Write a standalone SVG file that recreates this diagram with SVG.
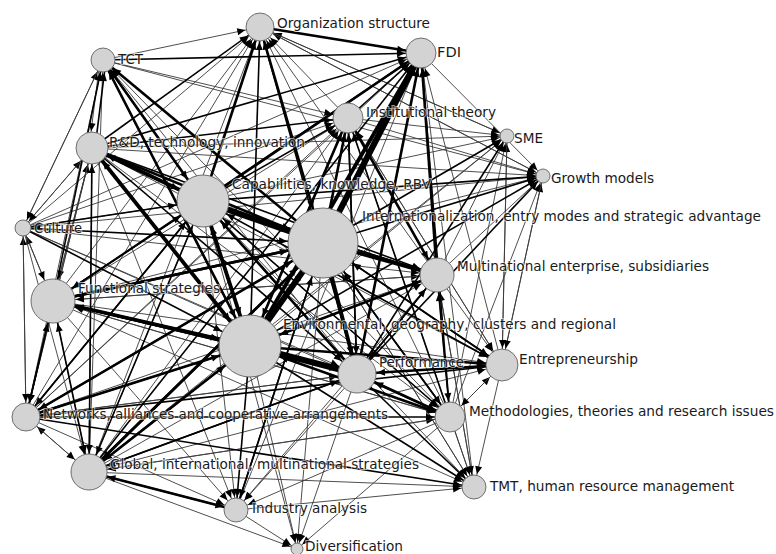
<svg xmlns="http://www.w3.org/2000/svg" width="776" height="554" viewBox="0 0 776 554">
<style>
#edges line{fill:none}
.w1{stroke:#3a3a3a;stroke-width:0.9}
.w2{stroke:#000;stroke-width:1.6}
.w3{stroke:#000;stroke-width:2.6}
.w4{stroke:#000;stroke-width:3.8}
.w5{stroke:#000;stroke-width:6}
.n circle{fill:#d3d3d3;stroke:#6e6e6e;stroke-width:1}
.n text{font-family:"DejaVu Sans",Verdana,sans-serif;font-size:13.5px;fill:#1a1a1a;stroke:#fff;stroke-width:2;stroke-opacity:0.6;paint-order:stroke}
.ah{fill:#000}
</style>
<defs>
<marker id="a-org" markerUnits="userSpaceOnUse" orient="auto" refX="15" refY="0" overflow="visible"><path class="ah" d="M-8,-3.5L0,0L-8,3.5z"/></marker>
<marker id="a-tct" markerUnits="userSpaceOnUse" orient="auto" refX="13" refY="0" overflow="visible"><path class="ah" d="M-8,-3.5L0,0L-8,3.5z"/></marker>
<marker id="a-fdi" markerUnits="userSpaceOnUse" orient="auto" refX="16" refY="0" overflow="visible"><path class="ah" d="M-8,-3.5L0,0L-8,3.5z"/></marker>
<marker id="a-inst" markerUnits="userSpaceOnUse" orient="auto" refX="16" refY="0" overflow="visible"><path class="ah" d="M-8,-3.5L0,0L-8,3.5z"/></marker>
<marker id="a-sme" markerUnits="userSpaceOnUse" orient="auto" refX="8" refY="0" overflow="visible"><path class="ah" d="M-8,-3.5L0,0L-8,3.5z"/></marker>
<marker id="a-rd" markerUnits="userSpaceOnUse" orient="auto" refX="17" refY="0" overflow="visible"><path class="ah" d="M-8,-3.5L0,0L-8,3.5z"/></marker>
<marker id="a-grow" markerUnits="userSpaceOnUse" orient="auto" refX="8" refY="0" overflow="visible"><path class="ah" d="M-8,-3.5L0,0L-8,3.5z"/></marker>
<marker id="a-cap" markerUnits="userSpaceOnUse" orient="auto" refX="27" refY="0" overflow="visible"><path class="ah" d="M-8,-3.5L0,0L-8,3.5z"/></marker>
<marker id="a-intl" markerUnits="userSpaceOnUse" orient="auto" refX="36" refY="0" overflow="visible"><path class="ah" d="M-8,-3.5L0,0L-8,3.5z"/></marker>
<marker id="a-cult" markerUnits="userSpaceOnUse" orient="auto" refX="9" refY="0" overflow="visible"><path class="ah" d="M-8,-3.5L0,0L-8,3.5z"/></marker>
<marker id="a-mne" markerUnits="userSpaceOnUse" orient="auto" refX="18" refY="0" overflow="visible"><path class="ah" d="M-8,-3.5L0,0L-8,3.5z"/></marker>
<marker id="a-func" markerUnits="userSpaceOnUse" orient="auto" refX="23" refY="0" overflow="visible"><path class="ah" d="M-8,-3.5L0,0L-8,3.5z"/></marker>
<marker id="a-env" markerUnits="userSpaceOnUse" orient="auto" refX="32" refY="0" overflow="visible"><path class="ah" d="M-8,-3.5L0,0L-8,3.5z"/></marker>
<marker id="a-perf" markerUnits="userSpaceOnUse" orient="auto" refX="20" refY="0" overflow="visible"><path class="ah" d="M-8,-3.5L0,0L-8,3.5z"/></marker>
<marker id="a-entr" markerUnits="userSpaceOnUse" orient="auto" refX="17" refY="0" overflow="visible"><path class="ah" d="M-8,-3.5L0,0L-8,3.5z"/></marker>
<marker id="a-net" markerUnits="userSpaceOnUse" orient="auto" refX="15" refY="0" overflow="visible"><path class="ah" d="M-8,-3.5L0,0L-8,3.5z"/></marker>
<marker id="a-meth" markerUnits="userSpaceOnUse" orient="auto" refX="16" refY="0" overflow="visible"><path class="ah" d="M-8,-3.5L0,0L-8,3.5z"/></marker>
<marker id="a-glob" markerUnits="userSpaceOnUse" orient="auto" refX="19" refY="0" overflow="visible"><path class="ah" d="M-8,-3.5L0,0L-8,3.5z"/></marker>
<marker id="a-tmt" markerUnits="userSpaceOnUse" orient="auto" refX="13" refY="0" overflow="visible"><path class="ah" d="M-8,-3.5L0,0L-8,3.5z"/></marker>
<marker id="a-ind" markerUnits="userSpaceOnUse" orient="auto" refX="13" refY="0" overflow="visible"><path class="ah" d="M-8,-3.5L0,0L-8,3.5z"/></marker>
<marker id="a-div" markerUnits="userSpaceOnUse" orient="auto" refX="7" refY="0" overflow="visible"><path class="ah" d="M-8,-3.5L0,0L-8,3.5z"/></marker>
</defs>
<rect width="776" height="554" fill="#fff"/>
<g id="edges">
<line class="w1" x1="103" y1="60" x2="260" y2="27" marker-end="url(#a-org)"/>
<line class="w1" x1="53" y1="301" x2="260" y2="27" marker-end="url(#a-org)"/>
<line class="w1" x1="23" y1="228" x2="260" y2="27" marker-end="url(#a-org)"/>
<line class="w1" x1="437" y1="275" x2="260" y2="27" marker-end="url(#a-org)"/>
<line class="w1" x1="348" y1="118" x2="260" y2="27" marker-end="url(#a-org)"/>
<line class="w1" x1="26" y1="417" x2="260" y2="27" marker-end="url(#a-org)"/>
<line class="w1" x1="89" y1="472" x2="260" y2="27" marker-end="url(#a-org)"/>
<line class="w1" x1="450" y1="417" x2="260" y2="27" marker-end="url(#a-org)"/>
<line class="w1" x1="507" y1="136" x2="260" y2="27" marker-end="url(#a-org)"/>
<line class="w1" x1="543" y1="176" x2="260" y2="27" marker-end="url(#a-org)"/>
<line class="w1" x1="100" y1="60" x2="89" y2="148" marker-end="url(#a-rd)"/>
<line class="w1" x1="23" y1="228" x2="103" y2="60" marker-end="url(#a-tct)"/>
<line class="w1" x1="357" y1="374" x2="103" y2="60" marker-end="url(#a-tct)"/>
<line class="w1" x1="450" y1="417" x2="103" y2="60" marker-end="url(#a-tct)"/>
<line class="w1" x1="89" y1="472" x2="103" y2="60" marker-end="url(#a-tct)"/>
<line class="w1" x1="103" y1="60" x2="348" y2="118" marker-end="url(#a-inst)"/>
<line class="w1" x1="26" y1="417" x2="421" y2="53" marker-end="url(#a-fdi)"/>
<line class="w1" x1="502" y1="365" x2="421" y2="53" marker-end="url(#a-fdi)"/>
<line class="w1" x1="23" y1="228" x2="421" y2="53" marker-end="url(#a-fdi)"/>
<line class="w1" x1="474" y1="487" x2="421" y2="53" marker-end="url(#a-fdi)"/>
<line class="w1" x1="236" y1="510" x2="421" y2="53" marker-end="url(#a-fdi)"/>
<line class="w1" x1="53" y1="301" x2="348" y2="118" marker-end="url(#a-inst)"/>
<line class="w1" x1="23" y1="228" x2="348" y2="118" marker-end="url(#a-inst)"/>
<line class="w1" x1="89" y1="472" x2="348" y2="118" marker-end="url(#a-inst)"/>
<line class="w1" x1="26" y1="417" x2="348" y2="118" marker-end="url(#a-inst)"/>
<line class="w1" x1="502" y1="365" x2="348" y2="118" marker-end="url(#a-inst)"/>
<line class="w1" x1="474" y1="487" x2="348" y2="118" marker-end="url(#a-inst)"/>
<line class="w1" x1="203" y1="201" x2="507" y2="136" marker-end="url(#a-sme)"/>
<line class="w1" x1="250" y1="346" x2="507" y2="136" marker-end="url(#a-sme)"/>
<line class="w1" x1="92" y1="148" x2="507" y2="136" marker-end="url(#a-sme)"/>
<line class="w1" x1="437" y1="275" x2="507" y2="136" marker-end="url(#a-sme)"/>
<line class="w1" x1="502" y1="365" x2="507" y2="136" marker-end="url(#a-sme)"/>
<line class="w1" x1="450" y1="417" x2="507" y2="136" marker-end="url(#a-sme)"/>
<line class="w1" x1="348" y1="118" x2="507" y2="136" marker-end="url(#a-sme)"/>
<line class="w1" x1="260" y1="27" x2="507" y2="136" marker-end="url(#a-sme)"/>
<line class="w1" x1="89" y1="472" x2="507" y2="136" marker-end="url(#a-sme)"/>
<line class="w1" x1="92" y1="148" x2="543" y2="176" marker-end="url(#a-grow)"/>
<line class="w1" x1="437" y1="275" x2="543" y2="176" marker-end="url(#a-grow)"/>
<line class="w1" x1="502" y1="365" x2="543" y2="176" marker-end="url(#a-grow)"/>
<line class="w1" x1="450" y1="417" x2="543" y2="176" marker-end="url(#a-grow)"/>
<line class="w1" x1="348" y1="118" x2="543" y2="176" marker-end="url(#a-grow)"/>
<line class="w1" x1="53" y1="301" x2="543" y2="176" marker-end="url(#a-grow)"/>
<line class="w1" x1="23" y1="228" x2="543" y2="176" marker-end="url(#a-grow)"/>
<line class="w1" x1="421" y1="53" x2="543" y2="176" marker-end="url(#a-grow)"/>
<line class="w1" x1="260" y1="27" x2="543" y2="176" marker-end="url(#a-grow)"/>
<line class="w1" x1="103" y1="60" x2="543" y2="176" marker-end="url(#a-grow)"/>
<line class="w1" x1="23" y1="228" x2="92" y2="148" marker-end="url(#a-rd)"/>
<line class="w1" x1="53" y1="301" x2="92" y2="148" marker-end="url(#a-rd)"/>
<line class="w1" x1="26" y1="417" x2="92" y2="148" marker-end="url(#a-rd)"/>
<line class="w1" x1="89" y1="472" x2="92" y2="148" marker-end="url(#a-rd)"/>
<line class="w1" x1="89" y1="472" x2="203" y2="201" marker-end="url(#a-cap)"/>
<line class="w1" x1="450" y1="417" x2="203" y2="201" marker-end="url(#a-cap)"/>
<line class="w1" x1="502" y1="365" x2="203" y2="201" marker-end="url(#a-cap)"/>
<line class="w1" x1="474" y1="487" x2="323" y2="243" marker-end="url(#a-intl)"/>
<line class="w1" x1="260" y1="27" x2="323" y2="243" marker-end="url(#a-intl)"/>
<line class="w1" x1="92" y1="148" x2="23" y2="228" marker-end="url(#a-cult)"/>
<line class="w1" x1="53" y1="301" x2="23" y2="228" marker-end="url(#a-cult)"/>
<line class="w1" x1="26" y1="417" x2="23" y2="228" marker-end="url(#a-cult)"/>
<line class="w1" x1="103" y1="60" x2="23" y2="228" marker-end="url(#a-cult)"/>
<line class="w1" x1="203" y1="201" x2="23" y2="228" marker-end="url(#a-cult)"/>
<line class="w1" x1="53" y1="301" x2="437" y2="275" marker-end="url(#a-mne)"/>
<line class="w1" x1="89" y1="472" x2="437" y2="275" marker-end="url(#a-mne)"/>
<line class="w1" x1="26" y1="417" x2="437" y2="275" marker-end="url(#a-mne)"/>
<line class="w1" x1="23" y1="228" x2="437" y2="275" marker-end="url(#a-mne)"/>
<line class="w1" x1="450" y1="417" x2="437" y2="275" marker-end="url(#a-mne)"/>
<line class="w1" x1="348" y1="118" x2="437" y2="275" marker-end="url(#a-mne)"/>
<line class="w1" x1="474" y1="487" x2="437" y2="275" marker-end="url(#a-mne)"/>
<line class="w1" x1="92" y1="148" x2="53" y2="301" marker-end="url(#a-func)"/>
<line class="w1" x1="23" y1="228" x2="53" y2="301" marker-end="url(#a-func)"/>
<line class="w1" x1="437" y1="275" x2="53" y2="301" marker-end="url(#a-func)"/>
<line class="w1" x1="89" y1="472" x2="53" y2="301" marker-end="url(#a-func)"/>
<line class="w1" x1="450" y1="417" x2="53" y2="301" marker-end="url(#a-func)"/>
<line class="w1" x1="450" y1="417" x2="250" y2="346" marker-end="url(#a-env)"/>
<line class="w1" x1="26" y1="417" x2="357" y2="374" marker-end="url(#a-perf)"/>
<line class="w1" x1="23" y1="228" x2="357" y2="374" marker-end="url(#a-perf)"/>
<line class="w1" x1="502" y1="365" x2="357" y2="374" marker-end="url(#a-perf)"/>
<line class="w1" x1="437" y1="275" x2="502" y2="365" marker-end="url(#a-entr)"/>
<line class="w1" x1="92" y1="148" x2="502" y2="365" marker-end="url(#a-entr)"/>
<line class="w1" x1="53" y1="301" x2="502" y2="365" marker-end="url(#a-entr)"/>
<line class="w1" x1="89" y1="472" x2="502" y2="365" marker-end="url(#a-entr)"/>
<line class="w1" x1="348" y1="118" x2="502" y2="365" marker-end="url(#a-entr)"/>
<line class="w1" x1="543" y1="176" x2="502" y2="365" marker-end="url(#a-entr)"/>
<line class="w1" x1="507" y1="136" x2="502" y2="365" marker-end="url(#a-entr)"/>
<line class="w1" x1="450" y1="417" x2="502" y2="365" marker-end="url(#a-entr)"/>
<line class="w1" x1="92" y1="148" x2="26" y2="417" marker-end="url(#a-net)"/>
<line class="w1" x1="23" y1="228" x2="26" y2="417" marker-end="url(#a-net)"/>
<line class="w1" x1="89" y1="472" x2="26" y2="417" marker-end="url(#a-net)"/>
<line class="w1" x1="357" y1="374" x2="26" y2="417" marker-end="url(#a-net)"/>
<line class="w1" x1="103" y1="60" x2="26" y2="417" marker-end="url(#a-net)"/>
<line class="w1" x1="92" y1="148" x2="450" y2="417" marker-end="url(#a-meth)"/>
<line class="w1" x1="53" y1="301" x2="450" y2="417" marker-end="url(#a-meth)"/>
<line class="w1" x1="89" y1="472" x2="450" y2="417" marker-end="url(#a-meth)"/>
<line class="w1" x1="502" y1="365" x2="450" y2="417" marker-end="url(#a-meth)"/>
<line class="w1" x1="23" y1="228" x2="450" y2="417" marker-end="url(#a-meth)"/>
<line class="w1" x1="26" y1="417" x2="89" y2="472" marker-end="url(#a-glob)"/>
<line class="w1" x1="23" y1="228" x2="89" y2="472" marker-end="url(#a-glob)"/>
<line class="w1" x1="450" y1="417" x2="89" y2="472" marker-end="url(#a-glob)"/>
<line class="w1" x1="323" y1="243" x2="474" y2="487" marker-end="url(#a-tmt)"/>
<line class="w1" x1="450" y1="417" x2="474" y2="487" marker-end="url(#a-tmt)"/>
<line class="w1" x1="502" y1="365" x2="474" y2="487" marker-end="url(#a-tmt)"/>
<line class="w1" x1="89" y1="472" x2="474" y2="487" marker-end="url(#a-tmt)"/>
<line class="w1" x1="437" y1="275" x2="474" y2="487" marker-end="url(#a-tmt)"/>
<line class="w1" x1="203" y1="201" x2="474" y2="487" marker-end="url(#a-tmt)"/>
<line class="w1" x1="53" y1="301" x2="474" y2="487" marker-end="url(#a-tmt)"/>
<line class="w1" x1="236" y1="510" x2="474" y2="487" marker-end="url(#a-tmt)"/>
<line class="w1" x1="357" y1="374" x2="236" y2="510" marker-end="url(#a-ind)"/>
<line class="w1" x1="203" y1="201" x2="236" y2="510" marker-end="url(#a-ind)"/>
<line class="w1" x1="53" y1="301" x2="236" y2="510" marker-end="url(#a-ind)"/>
<line class="w1" x1="26" y1="417" x2="236" y2="510" marker-end="url(#a-ind)"/>
<line class="w1" x1="92" y1="148" x2="236" y2="510" marker-end="url(#a-ind)"/>
<line class="w1" x1="450" y1="417" x2="236" y2="510" marker-end="url(#a-ind)"/>
<line class="w1" x1="437" y1="275" x2="236" y2="510" marker-end="url(#a-ind)"/>
<line class="w1" x1="236" y1="510" x2="297" y2="549" marker-end="url(#a-div)"/>
<line class="w1" x1="250" y1="346" x2="297" y2="549" marker-end="url(#a-div)"/>
<line class="w1" x1="323" y1="243" x2="297" y2="549" marker-end="url(#a-div)"/>
<line class="w1" x1="357" y1="374" x2="297" y2="549" marker-end="url(#a-div)"/>
<line class="w1" x1="89" y1="472" x2="297" y2="549" marker-end="url(#a-div)"/>
<line class="w1" x1="203" y1="201" x2="297" y2="549" marker-end="url(#a-div)"/>
<line class="w1" x1="450" y1="417" x2="297" y2="549" marker-end="url(#a-div)"/>
<line class="w2" x1="92" y1="148" x2="260" y2="27" marker-end="url(#a-org)"/>
<line class="w2" x1="250" y1="346" x2="260" y2="27" marker-end="url(#a-org)"/>
<line class="w2" x1="357" y1="374" x2="260" y2="27" marker-end="url(#a-org)"/>
<line class="w2" x1="95" y1="148" x2="106" y2="60" marker-end="url(#a-tct)"/>
<line class="w2" x1="53" y1="301" x2="103" y2="60" marker-end="url(#a-tct)"/>
<line class="w2" x1="103" y1="60" x2="421" y2="53" marker-end="url(#a-fdi)"/>
<line class="w2" x1="92" y1="148" x2="421" y2="53" marker-end="url(#a-fdi)"/>
<line class="w2" x1="348" y1="118" x2="421" y2="53" marker-end="url(#a-fdi)"/>
<line class="w2" x1="53" y1="301" x2="421" y2="53" marker-end="url(#a-fdi)"/>
<line class="w2" x1="89" y1="472" x2="421" y2="53" marker-end="url(#a-fdi)"/>
<line class="w2" x1="450" y1="417" x2="421" y2="53" marker-end="url(#a-fdi)"/>
<line class="w2" x1="92" y1="148" x2="348" y2="118" marker-end="url(#a-inst)"/>
<line class="w2" x1="203" y1="201" x2="348" y2="118" marker-end="url(#a-inst)"/>
<line class="w2" x1="357" y1="374" x2="348" y2="118" marker-end="url(#a-inst)"/>
<line class="w2" x1="450" y1="417" x2="348" y2="118" marker-end="url(#a-inst)"/>
<line class="w2" x1="323" y1="243" x2="507" y2="136" marker-end="url(#a-sme)"/>
<line class="w2" x1="357" y1="374" x2="507" y2="136" marker-end="url(#a-sme)"/>
<line class="w2" x1="323" y1="243" x2="543" y2="176" marker-end="url(#a-grow)"/>
<line class="w2" x1="203" y1="201" x2="543" y2="176" marker-end="url(#a-grow)"/>
<line class="w2" x1="250" y1="346" x2="543" y2="176" marker-end="url(#a-grow)"/>
<line class="w2" x1="357" y1="374" x2="543" y2="176" marker-end="url(#a-grow)"/>
<line class="w2" x1="203" y1="201" x2="92" y2="148" marker-end="url(#a-rd)"/>
<line class="w2" x1="250" y1="346" x2="92" y2="148" marker-end="url(#a-rd)"/>
<line class="w2" x1="103" y1="60" x2="203" y2="201" marker-end="url(#a-cap)"/>
<line class="w2" x1="23" y1="228" x2="203" y2="201" marker-end="url(#a-cap)"/>
<line class="w2" x1="53" y1="301" x2="203" y2="201" marker-end="url(#a-cap)"/>
<line class="w2" x1="357" y1="374" x2="203" y2="201" marker-end="url(#a-cap)"/>
<line class="w2" x1="26" y1="417" x2="203" y2="201" marker-end="url(#a-cap)"/>
<line class="w2" x1="437" y1="275" x2="203" y2="201" marker-end="url(#a-cap)"/>
<line class="w2" x1="23" y1="228" x2="323" y2="243" marker-end="url(#a-intl)"/>
<line class="w2" x1="450" y1="417" x2="323" y2="243" marker-end="url(#a-intl)"/>
<line class="w2" x1="502" y1="365" x2="323" y2="243" marker-end="url(#a-intl)"/>
<line class="w2" x1="236" y1="510" x2="323" y2="243" marker-end="url(#a-intl)"/>
<line class="w2" x1="203" y1="201" x2="437" y2="275" marker-end="url(#a-mne)"/>
<line class="w2" x1="357" y1="374" x2="437" y2="275" marker-end="url(#a-mne)"/>
<line class="w2" x1="92" y1="148" x2="437" y2="275" marker-end="url(#a-mne)"/>
<line class="w2" x1="203" y1="201" x2="53" y2="301" marker-end="url(#a-func)"/>
<line class="w2" x1="357" y1="374" x2="53" y2="301" marker-end="url(#a-func)"/>
<line class="w2" x1="26" y1="417" x2="53" y2="301" marker-end="url(#a-func)"/>
<line class="w2" x1="23" y1="228" x2="250" y2="346" marker-end="url(#a-env)"/>
<line class="w2" x1="26" y1="417" x2="250" y2="346" marker-end="url(#a-env)"/>
<line class="w2" x1="89" y1="472" x2="250" y2="346" marker-end="url(#a-env)"/>
<line class="w2" x1="103" y1="60" x2="250" y2="346" marker-end="url(#a-env)"/>
<line class="w2" x1="348" y1="118" x2="250" y2="346" marker-end="url(#a-env)"/>
<line class="w2" x1="437" y1="275" x2="250" y2="346" marker-end="url(#a-env)"/>
<line class="w2" x1="92" y1="148" x2="357" y2="374" marker-end="url(#a-perf)"/>
<line class="w2" x1="53" y1="301" x2="357" y2="374" marker-end="url(#a-perf)"/>
<line class="w2" x1="437" y1="275" x2="357" y2="374" marker-end="url(#a-perf)"/>
<line class="w2" x1="89" y1="472" x2="357" y2="374" marker-end="url(#a-perf)"/>
<line class="w2" x1="450" y1="417" x2="357" y2="374" marker-end="url(#a-perf)"/>
<line class="w2" x1="348" y1="118" x2="357" y2="374" marker-end="url(#a-perf)"/>
<line class="w2" x1="323" y1="243" x2="502" y2="365" marker-end="url(#a-entr)"/>
<line class="w2" x1="203" y1="201" x2="502" y2="365" marker-end="url(#a-entr)"/>
<line class="w2" x1="26" y1="417" x2="502" y2="365" marker-end="url(#a-entr)"/>
<line class="w2" x1="53" y1="301" x2="26" y2="417" marker-end="url(#a-net)"/>
<line class="w2" x1="203" y1="201" x2="26" y2="417" marker-end="url(#a-net)"/>
<line class="w2" x1="323" y1="243" x2="26" y2="417" marker-end="url(#a-net)"/>
<line class="w2" x1="323" y1="243" x2="450" y2="417" marker-end="url(#a-meth)"/>
<line class="w2" x1="203" y1="201" x2="450" y2="417" marker-end="url(#a-meth)"/>
<line class="w2" x1="437" y1="275" x2="450" y2="417" marker-end="url(#a-meth)"/>
<line class="w2" x1="26" y1="417" x2="450" y2="417" marker-end="url(#a-meth)"/>
<line class="w2" x1="53" y1="301" x2="89" y2="472" marker-end="url(#a-glob)"/>
<line class="w2" x1="92" y1="148" x2="89" y2="472" marker-end="url(#a-glob)"/>
<line class="w2" x1="203" y1="201" x2="89" y2="472" marker-end="url(#a-glob)"/>
<line class="w2" x1="357" y1="374" x2="89" y2="472" marker-end="url(#a-glob)"/>
<line class="w2" x1="236" y1="510" x2="89" y2="472" marker-end="url(#a-glob)"/>
<line class="w2" x1="357" y1="374" x2="474" y2="487" marker-end="url(#a-tmt)"/>
<line class="w2" x1="250" y1="346" x2="474" y2="487" marker-end="url(#a-tmt)"/>
<line class="w2" x1="26" y1="417" x2="474" y2="487" marker-end="url(#a-tmt)"/>
<line class="w2" x1="250" y1="346" x2="236" y2="510" marker-end="url(#a-ind)"/>
<line class="w2" x1="323" y1="243" x2="236" y2="510" marker-end="url(#a-ind)"/>
<line class="w3" x1="203" y1="201" x2="260" y2="27" marker-end="url(#a-org)"/>
<line class="w3" x1="323" y1="243" x2="260" y2="27" marker-end="url(#a-org)"/>
<line class="w3" x1="260" y1="27" x2="421" y2="53" marker-end="url(#a-fdi)"/>
<line class="w3" x1="203" y1="201" x2="103" y2="60" marker-end="url(#a-tct)"/>
<line class="w3" x1="323" y1="243" x2="103" y2="60" marker-end="url(#a-tct)"/>
<line class="w3" x1="250" y1="346" x2="103" y2="60" marker-end="url(#a-tct)"/>
<line class="w3" x1="203" y1="201" x2="421" y2="53" marker-end="url(#a-fdi)"/>
<line class="w3" x1="437" y1="275" x2="421" y2="53" marker-end="url(#a-fdi)"/>
<line class="w3" x1="357" y1="374" x2="421" y2="53" marker-end="url(#a-fdi)"/>
<line class="w3" x1="323" y1="243" x2="348" y2="118" marker-end="url(#a-inst)"/>
<line class="w3" x1="250" y1="346" x2="348" y2="118" marker-end="url(#a-inst)"/>
<line class="w3" x1="437" y1="275" x2="348" y2="118" marker-end="url(#a-inst)"/>
<line class="w3" x1="250" y1="346" x2="203" y2="201" marker-end="url(#a-cap)"/>
<line class="w3" x1="92" y1="148" x2="323" y2="243" marker-end="url(#a-intl)"/>
<line class="w3" x1="53" y1="301" x2="323" y2="243" marker-end="url(#a-intl)"/>
<line class="w3" x1="26" y1="417" x2="323" y2="243" marker-end="url(#a-intl)"/>
<line class="w3" x1="89" y1="472" x2="323" y2="243" marker-end="url(#a-intl)"/>
<line class="w3" x1="250" y1="346" x2="437" y2="275" marker-end="url(#a-mne)"/>
<line class="w3" x1="323" y1="243" x2="53" y2="301" marker-end="url(#a-func)"/>
<line class="w3" x1="53" y1="301" x2="250" y2="346" marker-end="url(#a-env)"/>
<line class="w3" x1="203" y1="201" x2="357" y2="374" marker-end="url(#a-perf)"/>
<line class="w3" x1="357" y1="374" x2="502" y2="365" marker-end="url(#a-entr)"/>
<line class="w3" x1="250" y1="346" x2="502" y2="365" marker-end="url(#a-entr)"/>
<line class="w3" x1="250" y1="346" x2="26" y2="417" marker-end="url(#a-net)"/>
<line class="w3" x1="357" y1="374" x2="450" y2="417" marker-end="url(#a-meth)"/>
<line class="w3" x1="250" y1="346" x2="450" y2="417" marker-end="url(#a-meth)"/>
<line class="w3" x1="250" y1="346" x2="89" y2="472" marker-end="url(#a-glob)"/>
<line class="w3" x1="323" y1="243" x2="89" y2="472" marker-end="url(#a-glob)"/>
<line class="w3" x1="89" y1="472" x2="236" y2="510" marker-end="url(#a-ind)"/>
<line class="w4" x1="250" y1="346" x2="421" y2="53" marker-end="url(#a-fdi)"/>
<line class="w4" x1="92" y1="148" x2="203" y2="201" marker-end="url(#a-cap)"/>
<line class="w4" x1="92" y1="148" x2="250" y2="346" marker-end="url(#a-env)"/>
<line class="w4" x1="323" y1="243" x2="357" y2="374" marker-end="url(#a-perf)"/>
<line class="w4" x1="323" y1="243" x2="437" y2="275" marker-end="url(#a-mne)"/>
<line class="w4" x1="250" y1="346" x2="53" y2="301" marker-end="url(#a-func)"/>
<line class="w4" x1="203" y1="201" x2="250" y2="346" marker-end="url(#a-env)"/>
<line class="w5" x1="323" y1="243" x2="421" y2="53" marker-end="url(#a-fdi)"/>
<line class="w5" x1="203" y1="201" x2="323" y2="243" marker-end="url(#a-intl)"/>
<line class="w5" x1="250" y1="346" x2="323" y2="243" marker-end="url(#a-intl)"/>
<line class="w5" x1="250" y1="346" x2="357" y2="374" marker-end="url(#a-perf)"/>
</g>
<g id="nodes">
<g id="n-org" class="n"><circle cx="260" cy="27" r="14"/><text x="277" y="28" textLength="153" lengthAdjust="spacingAndGlyphs">Organization structure</text></g>
<g id="n-tct" class="n"><circle cx="103" cy="60" r="12"/><text x="118" y="64" textLength="25" lengthAdjust="spacingAndGlyphs">TCT</text></g>
<g id="n-fdi" class="n"><circle cx="421" cy="53" r="15"/><text x="437" y="57" textLength="24" lengthAdjust="spacingAndGlyphs">FDI</text></g>
<g id="n-inst" class="n"><circle cx="348" cy="118" r="15"/><text x="366" y="117" textLength="130" lengthAdjust="spacingAndGlyphs">Institutional theory</text></g>
<g id="n-sme" class="n"><circle cx="507" cy="136" r="7"/><text x="514" y="143" textLength="29" lengthAdjust="spacingAndGlyphs">SME</text></g>
<g id="n-rd" class="n"><circle cx="92" cy="148" r="16"/><text x="109" y="147" textLength="196" lengthAdjust="spacingAndGlyphs">R&amp;D, technology, innovation</text></g>
<g id="n-grow" class="n"><circle cx="543" cy="176" r="7"/><text x="551" y="183" textLength="103" lengthAdjust="spacingAndGlyphs">Growth models</text></g>
<g id="n-cap" class="n"><circle cx="203" cy="201" r="26"/><text x="232" y="189" textLength="199" lengthAdjust="spacingAndGlyphs">Capabilities, knowledge, RBV</text></g>
<g id="n-intl" class="n"><circle cx="323" cy="243" r="35"/><text x="362" y="221" textLength="399" lengthAdjust="spacingAndGlyphs">Internationalization, entry modes and strategic advantage</text></g>
<g id="n-cult" class="n"><circle cx="23" cy="228" r="8"/><text x="34" y="233" textLength="48" lengthAdjust="spacingAndGlyphs">Culture</text></g>
<g id="n-mne" class="n"><circle cx="437" cy="275" r="17"/><text x="457" y="271" textLength="252" lengthAdjust="spacingAndGlyphs">Multinational enterprise, subsidiaries</text></g>
<g id="n-func" class="n"><circle cx="53" cy="301" r="22"/><text x="78" y="293" textLength="142" lengthAdjust="spacingAndGlyphs">Functional strategies</text></g>
<g id="n-env" class="n"><circle cx="250" cy="346" r="31"/><text x="283" y="329" textLength="333" lengthAdjust="spacingAndGlyphs">Environmental, geography, clusters and regional</text></g>
<g id="n-perf" class="n"><circle cx="357" cy="374" r="19"/><text x="379" y="367" textLength="85" lengthAdjust="spacingAndGlyphs">Performance</text></g>
<g id="n-entr" class="n"><circle cx="502" cy="365" r="16"/><text x="519" y="364" textLength="119" lengthAdjust="spacingAndGlyphs">Entrepreneurship</text></g>
<g id="n-net" class="n"><circle cx="26" cy="417" r="14"/><text x="43" y="419" textLength="345" lengthAdjust="spacingAndGlyphs">Networks, alliances and cooperative arrangements</text></g>
<g id="n-meth" class="n"><circle cx="450" cy="417" r="15"/><text x="469" y="416" textLength="305" lengthAdjust="spacingAndGlyphs">Methodologies, theories and research issues</text></g>
<g id="n-glob" class="n"><circle cx="89" cy="472" r="18"/><text x="110" y="469" textLength="309" lengthAdjust="spacingAndGlyphs">Global, international, multinational strategies</text></g>
<g id="n-tmt" class="n"><circle cx="474" cy="487" r="12"/><text x="490" y="491" textLength="244" lengthAdjust="spacingAndGlyphs">TMT, human resource management</text></g>
<g id="n-ind" class="n"><circle cx="236" cy="510" r="12"/><text x="252" y="513" textLength="115" lengthAdjust="spacingAndGlyphs">Industry analysis</text></g>
<g id="n-div" class="n"><circle cx="297" cy="549" r="6"/><text x="305" y="551" textLength="98" lengthAdjust="spacingAndGlyphs">Diversification</text></g>
</g>
</svg>
